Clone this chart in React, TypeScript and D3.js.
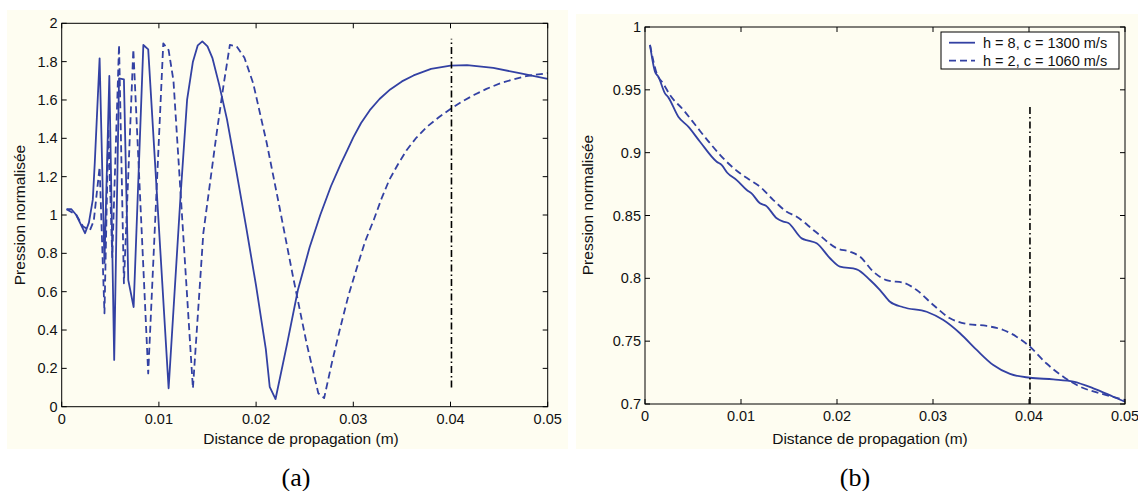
import React from 'react';
import * as d3 from 'd3';

// ---------- data ----------
const X_TICKS = [0, 0.01, 0.02, 0.03, 0.04, 0.05];
const X_TICK_LABELS = ['0', '0.01', '0.02', '0.03', '0.04', '0.05'];

const A_Y_TICKS = [0, 0.2, 0.4, 0.6, 0.8, 1, 1.2, 1.4, 1.6, 1.8, 2];
const A_Y_TICK_LABELS = ['0', '0.2', '0.4', '0.6', '0.8', '1', '1.2', '1.4', '1.6', '1.8', '2'];

const B_Y_TICKS = [0.7, 0.75, 0.8, 0.85, 0.9, 0.95, 1];
const B_Y_TICK_LABELS = ['0.7', '0.75', '0.8', '0.85', '0.9', '0.95', '1'];

// Panel (a) — solid: h = 8, c = 1300 m/s
const A_SOLID_X = [0.0005, 0.001, 0.0015, 0.0024, 0.0028, 0.0032, 0.0034, 0.0039, 0.0044, 0.0049, 0.0054, 0.0059, 0.0064, 0.00685, 0.0074, 0.0084, 0.0089, 0.011, 0.0122, 0.0129, 0.0135, 0.014, 0.01447, 0.015, 0.0155, 0.0162, 0.017, 0.018, 0.019, 0.02, 0.021, 0.0214, 0.022, 0.0232, 0.0243, 0.0255, 0.0266, 0.0277, 0.0287, 0.0294, 0.03, 0.0308, 0.0317, 0.0327, 0.0338, 0.035, 0.0362, 0.038, 0.04, 0.0417, 0.0444, 0.0471, 0.05];
const A_SOLID_Y = [1.03, 1.03, 1.0, 0.905, 0.96, 1.08, 1.27, 1.817, 0.75, 1.725, 0.244, 1.713, 1.708, 0.66, 0.52, 1.887, 1.864, 0.096, 1.078, 1.6, 1.8, 1.885, 1.906, 1.88, 1.82, 1.68, 1.5, 1.22, 0.93, 0.63, 0.3, 0.104, 0.04, 0.33, 0.609, 0.83, 1.0, 1.15, 1.265, 1.34, 1.405, 1.48, 1.547, 1.605, 1.655, 1.697, 1.728, 1.762, 1.779, 1.782, 1.767, 1.74, 1.71];

// Panel (a) — dashed: h = 2, c = 1060 m/s
const A_DASH_X = [0.0005, 0.0015, 0.0022, 0.0029, 0.0033, 0.0039, 0.0044, 0.0048, 0.0052, 0.0059, 0.0064, 0.00737, 0.0089, 0.01045, 0.011, 0.0115, 0.0125, 0.0135, 0.01457, 0.01594, 0.01663, 0.0173, 0.018, 0.0188, 0.0197, 0.0211, 0.0224, 0.0238, 0.0252, 0.0264, 0.027, 0.0278, 0.0286, 0.0295, 0.0304, 0.0312, 0.0321, 0.0329, 0.0337, 0.0346, 0.0355, 0.0365, 0.0376, 0.0388, 0.04, 0.0412, 0.0424, 0.0437, 0.0451, 0.0465, 0.0478, 0.05];
const A_DASH_Y = [1.03, 1.0, 0.94, 0.92, 0.97, 1.25, 0.487, 1.45, 0.78, 1.887, 0.644, 1.864, 0.174, 1.895, 1.86, 1.7, 0.9, 0.096, 0.905, 1.426, 1.67, 1.887, 1.88, 1.82, 1.687, 1.374, 1.043, 0.678, 0.33, 0.07, 0.045, 0.23, 0.4, 0.58, 0.73, 0.86, 0.974, 1.085, 1.183, 1.265, 1.339, 1.404, 1.461, 1.51, 1.553, 1.592, 1.626, 1.658, 1.687, 1.708, 1.725, 1.74];

// Panel (b) — solid
const B_SOLID_X = [0.00052, 0.00104, 0.00139, 0.00208, 0.00243, 0.00347, 0.00451, 0.00573, 0.00747, 0.008, 0.00857, 0.00955, 0.0106, 0.0111, 0.01198, 0.0126, 0.01372, 0.01441, 0.01493, 0.01632, 0.017, 0.01788, 0.01927, 0.02031, 0.02205, 0.02344, 0.02448, 0.02552, 0.0269, 0.02934, 0.03108, 0.03281, 0.03455, 0.03628, 0.03802, 0.0401, 0.04253, 0.04462, 0.0467, 0.04878, 0.05];
const B_SOLID_Y = [0.9857, 0.9644, 0.9605, 0.9472, 0.944, 0.9286, 0.9207, 0.9087, 0.8928, 0.8901, 0.884, 0.8782, 0.8703, 0.8676, 0.8597, 0.8578, 0.8478, 0.8451, 0.844, 0.8318, 0.83, 0.8279, 0.816, 0.8093, 0.8072, 0.7987, 0.7907, 0.7814, 0.777, 0.7734, 0.7668, 0.7563, 0.743, 0.731, 0.7239, 0.7209, 0.7196, 0.7178, 0.7125, 0.7058, 0.7018];

// Panel (b) — dashed
const B_DASH_X = [0.00052, 0.00122, 0.0019, 0.0026, 0.004, 0.00538, 0.00677, 0.0085, 0.0099, 0.01094, 0.01198, 0.01337, 0.01476, 0.0158, 0.01753, 0.0181, 0.01997, 0.02135, 0.0224, 0.02378, 0.02535, 0.0269, 0.0283, 0.03003, 0.03177, 0.0335, 0.03559, 0.03732, 0.0387, 0.0401, 0.0418, 0.04357, 0.04531, 0.0474, 0.05];
const B_DASH_Y = [0.9857, 0.963, 0.955, 0.9459, 0.934, 0.9207, 0.9075, 0.8928, 0.8836, 0.8782, 0.8729, 0.8623, 0.853, 0.849, 0.8385, 0.835, 0.8239, 0.8212, 0.8172, 0.8053, 0.7981, 0.7966, 0.7907, 0.7788, 0.7682, 0.7637, 0.7621, 0.7589, 0.7536, 0.7456, 0.7324, 0.7217, 0.7138, 0.7085, 0.7032];

const LEGEND_LABELS = ['h = 8, c = 1300 m/s', 'h = 2, c = 1060 m/s'];
const VLINE_X = 0.0401;
const A_VLINE_Y = [0.1, 1.92];
const B_VLINE_Y = [0.7, 0.937];

// ---------- style ----------
const FONT = "'Liberation Sans', Arial, Helvetica, sans-serif";
const SERIF = "'Liberation Serif', 'DejaVu Serif', serif";
const BLUE = '#3341A3';
const CREAM = '#FEFDF1';
const DASH = '7,4';
const DASHDOT = '7,3,1.5,3';

type PanelProps = {
  bg: [number, number, number, number];
  box: [number, number, number, number]; // left, right, top, bottom
  yDomain: [number, number];
  yTicks: number[];
  yTickLabels: string[];
  solid: [number[], number[]];
  dashed: [number[], number[]];
  vlineY: number[];
  curve: d3.CurveFactory;
  ylabelPos: [number, number];
  xlabelPos: [number, number];
  caption: string;
  captionPos: [number, number];
  legend?: boolean;
};

function zip(xs: number[], ys: number[]): [number, number][] {
  return xs.map((x, i) => [x, ys[i]] as [number, number]);
}

function Panel(p: PanelProps) {
  const [l, r, t, b] = p.box;
  const xs = d3.scaleLinear().domain([0, 0.05]).range([l, r]);
  const ys = d3.scaleLinear().domain(p.yDomain).range([b, t]);
  const line = d3.line<[number, number]>().x(d => xs(d[0])).y(d => ys(d[1])).curve(p.curve);
  const tick = 5;
  return (
    <g>
      <rect x={p.bg[0]} y={p.bg[1]} width={p.bg[2] - p.bg[0]} height={p.bg[3] - p.bg[1]} fill={CREAM} />
      <rect x={l} y={t} width={r - l} height={b - t} fill={CREAM} />
      <path d={line(zip(p.solid[0], p.solid[1])) || ''} fill="none" stroke={BLUE} strokeWidth={1.8} strokeLinejoin="round" />
      <path d={line(zip(p.dashed[0], p.dashed[1])) || ''} fill="none" stroke={BLUE} strokeWidth={1.8} strokeDasharray={DASH} strokeLinejoin="round" />
      <line x1={xs(VLINE_X)} x2={xs(VLINE_X)} y1={ys(p.vlineY[0])} y2={ys(p.vlineY[1])} stroke="#000" strokeWidth={1.6} strokeDasharray={DASHDOT} />
      {/* axes box */}
      <rect x={l} y={t} width={r - l} height={b - t} fill="none" stroke="#000" strokeWidth={1} />
      {X_TICKS.map((v, i) => (
        <g key={'x' + i}>
          <line x1={xs(v)} x2={xs(v)} y1={b} y2={b - tick} stroke="#000" strokeWidth={1} />
          <line x1={xs(v)} x2={xs(v)} y1={t} y2={t + tick} stroke="#000" strokeWidth={1} />
          <text x={xs(v)} y={b + 12} fontFamily={FONT} fontSize={14.5} textAnchor="middle" dominantBaseline="central" fill="#111">{X_TICK_LABELS[i]}</text>
        </g>
      ))}
      {p.yTicks.map((v, i) => (
        <g key={'y' + i}>
          <line x1={l} x2={l + tick} y1={ys(v)} y2={ys(v)} stroke="#000" strokeWidth={1} />
          <line x1={r} x2={r - tick} y1={ys(v)} y2={ys(v)} stroke="#000" strokeWidth={1} />
          <text x={l - 4} y={ys(v)} fontFamily={FONT} fontSize={14.5} textAnchor="end" dominantBaseline="central" fill="#111">{p.yTickLabels[i]}</text>
        </g>
      ))}
      <text x={p.xlabelPos[0]} y={p.xlabelPos[1]} fontFamily={FONT} fontSize={15.5} textAnchor="middle" dominantBaseline="central" fill="#111">Distance de propagation (m)</text>
      <text transform={`translate(${p.ylabelPos[0]},${p.ylabelPos[1]}) rotate(-90)`} fontFamily={FONT} fontSize={15.5} textAnchor="middle" dominantBaseline="central" fill="#111">Pression normalisée</text>
      <text x={p.captionPos[0]} y={p.captionPos[1]} fontFamily={SERIF} fontSize={26} textAnchor="middle" dominantBaseline="central" fill="#000">{p.caption}</text>
      {p.legend && (
        <g>
          <rect x={941} y={32} width={178} height={37} fill="#fff" stroke="#000" strokeWidth={1} />
          <line x1={949} x2={975} y1={42.7} y2={42.7} stroke={BLUE} strokeWidth={1.8} />
          <line x1={949} x2={975} y1={60.7} y2={60.7} stroke={BLUE} strokeWidth={1.8} strokeDasharray={DASH} />
          <text x={983} y={42.7} fontFamily={FONT} fontSize={14.5} dominantBaseline="central" fill="#111">{LEGEND_LABELS[0]}</text>
          <text x={983} y={60.7} fontFamily={FONT} fontSize={14.5} dominantBaseline="central" fill="#111">{LEGEND_LABELS[1]}</text>
        </g>
      )}
    </g>
  );
}

export default function App() {
  return (
    <svg width={1138} height={491} style={{ position: 'absolute', left: 0, top: 0, background: '#fff' }}>
      <Panel
        bg={[7, 10, 568, 449]}
        box={[61.7, 547.7, 23.3, 406.7]}
        yDomain={[0, 2]}
        yTicks={A_Y_TICKS}
        yTickLabels={A_Y_TICK_LABELS}
        solid={[A_SOLID_X, A_SOLID_Y]}
        dashed={[A_DASH_X, A_DASH_Y]}
        vlineY={A_VLINE_Y}
        curve={d3.curveLinear}
        ylabelPos={[19, 215]}
        xlabelPos={[301, 438]}
        caption="(a)"
        captionPos={[296, 477]}
      />
      <Panel
        bg={[576, 14, 1138, 449]}
        box={[645, 1125, 27, 404]}
        yDomain={[0.7, 1]}
        yTicks={B_Y_TICKS}
        yTickLabels={B_Y_TICK_LABELS}
        solid={[B_SOLID_X, B_SOLID_Y]}
        dashed={[B_DASH_X, B_DASH_Y]}
        vlineY={B_VLINE_Y}
        curve={d3.curveMonotoneX}
        ylabelPos={[587.5, 205]}
        xlabelPos={[870, 438]}
        caption="(b)"
        captionPos={[855, 477]}
        legend
      />
    </svg>
  );
}
